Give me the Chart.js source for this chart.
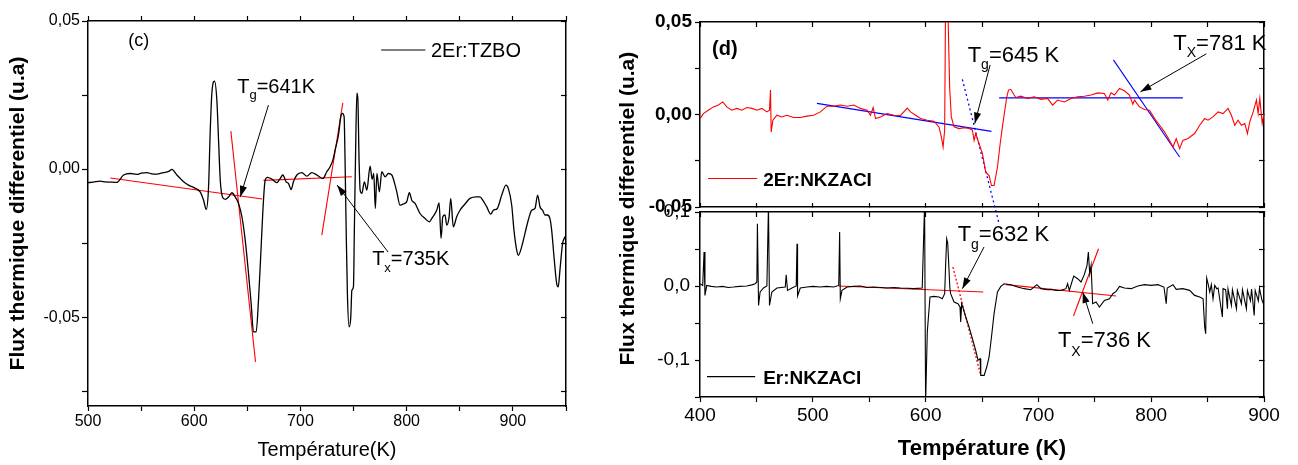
<!DOCTYPE html>
<html><head><meta charset="utf-8">
<script src="https://cdn.jsdelivr.net/npm/chart.js@4.4.0/dist/chart.umd.min.js"></script>
<style>
html,body{margin:0;padding:0;background:#fff;overflow:hidden}
#wrap{position:relative;width:1298px;height:465px;background:#fff}
canvas{position:absolute;left:0;top:0}
</style></head>
<body><div id="wrap">
<canvas id="cC" width="1298" height="465"></canvas>
<canvas id="cDt" width="1298" height="465"></canvas>
<canvas id="cDb" width="1298" height="465"></canvas>
</div>
<script>
// ---------- Panel (c): 2Er:TZBO ----------
const tempC = [
 500,505,511.6,516,521,527,533.5,539.8,546,550,
 555.5,560,564.9,571,576,579,583.7,590,595,599.3,
 605.6,608.8,611.3,613.5,615,616.6,619.1,621.3,622.9,624.5,
 626.6,629.2,632.3,635.5,638.6,641.7,644.9,648,651.1,653.6,
 655.8,658.3,660.5,663,665.2,666.8,669,673.1,677.8,680.9,
 683.4,686.5,688.7,691.2,693.4,696.6,701.3,706,710.7,715.4,
 721.1,724.8,727.9,730.5,732.6,735.8,738,739.5,741.1,742,
 743,744.2,745.8,747.4,748.4,749.9,750.8,751.8,753.1,754,
 755.2,756.2,757.8,760.2,762.5,765.6,767.5,769,770.5,772,
 774.3,776.6,779.7,782.8,786,789.1,790.7,793.8,796.9,800.1,
 802.5,804.8,807.9,812.6,817.3,821.4,823.6,828.3,830.5,832.4,
 834,836.1,837.7,839.9,841.5,843.9,847.1,850.2,854.9,859.6,
 865.9,869,871.6,875.3,879.1,881.6,885.3,889.5,893.5,895.7,
 898.9,901,903.6,905.1,908.3,911.4,914.5,917.7,920.8,923.3,
 925.5,928,930.2,932.4,934.9,936.5,938.7,941.2,942.7,944.3,
 946.8,948.4,950];
const fluxC = [
 -0.0046,-0.0044,-0.0041,-0.0043,-0.0044,-0.0045,-0.0020,-0.0015,-0.0018,-0.0014,
 -0.0012,-0.0016,-0.0017,-0.0012,-0.0008,-0.0001,-0.0020,-0.0043,-0.0055,-0.0062,
 -0.0077,-0.0105,-0.0136,-0.0060,0.0121,0.0256,0.0297,0.0233,0.0098,-0.0037,
 -0.0094,-0.0102,-0.0094,-0.0080,-0.0094,-0.0116,-0.0161,-0.0240,-0.0352,-0.0454,
 -0.0550,-0.0550,-0.0443,-0.0262,-0.0105,-0.0037,-0.0028,-0.0034,-0.0046,-0.0032,
 -0.0020,-0.0043,-0.0048,-0.0069,-0.0043,-0.0020,-0.0012,-0.0024,-0.0012,-0.0020,
 -0.0032,-0.0009,0.0008,0.0030,0.0064,0.0115,0.0177,0.0188,0.0177,0.0030,
 -0.0195,-0.0420,-0.0533,-0.0499,-0.0409,-0.0398,-0.0195,0.0030,0.0256,0.0239,
 0.0030,-0.0071,-0.0082,-0.0043,-0.0071,0.0010,-0.0035,-0.0015,-0.0133,-0.0015,
 -0.0077,-0.0009,-0.0026,-0.0015,-0.0020,-0.0054,-0.0077,-0.0122,-0.0118,-0.0110,
 -0.0080,-0.0105,-0.0116,-0.0150,-0.0167,-0.0178,-0.0167,-0.0139,-0.0114,-0.0234,
 -0.0161,-0.0155,-0.0189,-0.0163,-0.0099,-0.0195,-0.0161,-0.0139,-0.0118,-0.0099,
 -0.0094,-0.0094,-0.0105,-0.0127,-0.0152,-0.0139,-0.0133,-0.0088,-0.0054,-0.0065,
 -0.0122,-0.0206,-0.0274,-0.0291,-0.0262,-0.0217,-0.0172,-0.0139,-0.0133,-0.0088,
 -0.0127,-0.0139,-0.0155,-0.0155,-0.0167,-0.0206,-0.0296,-0.0386,-0.0398,-0.0341,
 -0.0251,-0.0234,-0.0225];
const tangentC1 = [[521,-0.0030],[664,-0.0101]];
const tangentC2 = [[634.5,0.0128],[657.7,-0.0651]];
const tangentC3 = [[665.2,-0.0038],[748.4,-0.0026]];
const tangentC4 = [[720.1,-0.0223],[739.9,0.0224]];
const arrowCg = [[669.9,0.0216],[643.3,-0.0094]];
const arrowCx = [[782.5,-0.0280],[734.5,-0.0054]];

// ---------- Panel (d) top: 2Er:NKZACI ----------
const tempDt = [
 400,403,407.4,411.9,416.3,420.2,423.7,428.1,432.6,437,
 441.5,446,450.4,454.8,459.3,461.6,462.5,463.1,464.6,468.2,
 472.6,477,482.9,488.9,494.8,500.7,506.7,512.6,518.5,524.4,
 530.4,536.3,542.2,548.2,551.1,553.5,555.6,560,565.9,571.9,
 577.8,583.7,586.7,591.1,595.6,601.5,607.4,611.9,614,615.5,
 616.9,617.8,619.3,621.3,622.8,625.2,629.6,634.1,638.5,641.5,
 643,644.4,647.4,650.4,653.3,656.3,658.4,660.7,663.7,666.1,
 668.1,670.2,672,673.5,675.5,678.5,680,684.4,690.4,696.3,
 702.2,708.1,712.6,717,723,728.9,734.8,740.7,746.7,752.6,
 758.5,761.5,764.4,767.4,771.9,776.3,780.7,783.7,785.2,789.6,
 794.1,798.5,803,807.4,811.9,816.3,819.3,822.2,825.2,828.1,
 832.6,838.5,843,847.4,850.4,854.8,859.3,863.7,868.1,871.1,
 874.1,877,880,883,885.3,887.4,890.4,893.3,894.8,896.3,
 898.4,900];
const fluxDt = [
 -0.0022,0.0005,0.0023,0.0041,0.0051,0.0068,0.0041,0.0023,0.0033,0.0023,
 0.0038,0.0033,0.0023,0.0033,0.0014,0.0023,0.0132,-0.0095,-0.0031,-0.0004,
 -0.0013,-0.0004,-0.0016,-0.0016,-0.0009,-0.0004,0.0014,0.0045,0.0045,0.0051,
 0.0045,0.0051,0.0033,0.0023,-0.0004,0.0038,-0.0022,-0.0013,0.0005,-0.0004,
 -0.0005,0.0035,0.0014,-0.0004,-0.0022,-0.0031,-0.0036,-0.0067,-0.0122,-0.0176,
 -0.0085,0.07,0.07,0.0150,-0.0013,-0.0067,-0.0076,-0.0071,-0.0076,-0.0085,
 -0.0140,-0.0103,-0.0158,-0.0212,-0.0312,-0.0330,-0.0384,-0.0384,-0.0285,-0.0158,
 -0.0067,0.0023,0.0096,0.0132,0.0136,0.0105,0.0092,0.0099,0.0087,0.0096,
 0.0082,0.0087,0.0051,0.0078,0.0068,0.0087,0.0096,0.0099,0.0105,0.0117,
 0.0114,0.0078,0.0117,0.0105,0.0141,0.0128,0.0105,0.0056,0.0078,0.0041,
 0.0027,0.0023,-0.0022,-0.0058,-0.0095,-0.0140,-0.0176,-0.0130,-0.0185,-0.0140,
 -0.0130,-0.0103,-0.0058,-0.0022,-0.0031,-0.0013,0.0014,0.0005,0.0033,-0.0004,
 -0.0058,-0.0031,-0.0058,-0.0049,-0.0103,-0.0040,0.0014,0.0078,0.0005,0.0087,
 -0.0049,0.0005];
const blueA = [[503.7,0.0060],[658.4,-0.0091]];
const blueDot = [[632.6,0.0190],[665.2,-0.0592]];
const blueC = [[665.2,0.0090],[828.1,0.0090]];
const blueD = [[766.5,0.0295],[825.2,-0.0230]];
const arrowDtg = [[657.2,0.0268],[643.6,-0.0049]];
const arrowDtx = [[848.9,0.0328],[790.5,0.0123]];

// ---------- Panel (d) bottom: Er:NKZACI ----------
const tempDb = [
 400,402.4,403.6,404.4,406,410,414.8,420,425,429.6,
 435,441.5,446,448.9,450.4,450.9,451.9,453.3,456.3,459.3,
 460.7,461.6,463.7,468.2,475.6,476.4,477.6,481.5,485.3,486,
 486.5,488.9,494.8,500,506.7,512,518.5,523,523.8,524.4,
 525.9,530.4,536,542.2,548,554.1,560,565.9,572,577.8,
 584,589.6,597,599.1,600,601.5,603.9,607.4,611.9,614.8,
 616.9,617.8,618.7,619.6,620.5,621.5,622.2,625.2,628.7,630.5,
 631.1,632,635.6,638.5,641.5,644.4,646.5,648.3,648.9,651.9,
 654.2,656.3,658.4,660.7,663.7,666.7,669.6,675.6,681.5,687.4,
 693.3,698.7,702.2,708.1,711.1,716,720,724.4,725.9,727.4,
 731.3,734.8,737.8,740.7,743.1,744.3,745.5,746.7,747.3,748.1,
 751.1,754.1,758.5,763,766,768.9,771.9,776.3,782.2,788.1,
 794.1,800,805.9,811.3,813.3,814.2,819.3,822.2,828.1,834.1,
 838.5,843,846,847.4,848.3,849.2,850.4,851.9,853.3,854.8,
 856.3,858.1,859.3,863.1,863.7,866,867.6,868.1,871.1,872,
 875.6,876.4,880,880.9,884.4,885.3,888,889,891.3,892.2,
 895,896,898,900];
const fluxDb = [
 0.0031,0.0008,0.0459,-0.0127,0.0008,-0.0005,-0.0014,-0.0005,-0.0020,-0.0014,
 -0.0005,0,0.0015,0.0031,0.0054,0.0842,-0.0262,-0.0081,-0.0027,0,
 0.11,-0.0262,-0.0081,-0.0027,-0.0014,0.0153,-0.0059,-0.0027,0,0.0572,
 -0.0135,-0.0027,-0.0014,-0.0005,-0.0014,-0.0005,-0.0014,0.0008,0.073,-0.0172,
 -0.0059,-0.0014,-0.0005,0,-0.0020,-0.0014,-0.0020,-0.0027,-0.0020,-0.0027,
 -0.0030,-0.0036,-0.0027,0.11,-0.16,-0.062,-0.0149,-0.0140,-0.0149,-0.0172,
 -0.0104,0.030,0.0639,0.058,0.030,-0.003,-0.0104,-0.0216,-0.0239,-0.0284,
 -0.0486,-0.0239,-0.0419,-0.0554,-0.0712,-0.0870,-0.1005,-0.0982,-0.1208,-0.1208,
 -0.1095,-0.0959,-0.0689,-0.0374,-0.0081,-0.0005,0.0031,0.0018,-0.0014,-0.0036,
 -0.0050,0.0018,-0.0036,-0.0050,-0.0046,-0.0060,-0.0059,-0.0036,0.0031,-0.0059,
 0.0135,0.0099,0.0054,0.0153,0.0279,0.0459,0.0166,0.0279,0.0279,-0.0239,
 -0.0216,-0.0284,-0.0194,-0.0172,-0.0104,-0.0072,-0.0005,-0.0027,-0.0036,0,
 0.0018,0.0008,0.0018,-0.0014,-0.0239,-0.0027,0.0018,-0.0046,-0.0036,-0.0059,
 -0.0127,-0.0149,-0.0172,-0.0554,-0.0645,0.0108,0.0031,-0.0081,0.0018,-0.0172,
 0.0008,-0.0036,-0.0027,-0.0419,-0.0036,-0.0050,-0.0307,-0.0040,-0.0262,-0.0050,
 -0.0307,-0.0060,-0.0239,-0.0050,-0.0307,-0.0060,-0.0200,-0.0040,-0.0397,-0.0060,
 -0.0200,-0.0030,-0.0180,-0.0262];
const redE = [[523,0],[651.1,-0.0081]];
const redF = [[624.2,0.0257],[648.9,-0.121]];
const redG = [[671.1,0.0018],[768.9,-0.0135]];
const redH = [[731.1,-0.0405],[753.3,0.0504]];
const arrowDbg = [[651.8,0.0527],[632.6,-0.0036]];
const arrowDbx = [[748.2,-0.0509],[739.3,-0.0081]];

// ---------- helpers ----------
const FONT = '"Liberation Sans", Arial, Helvetica, sans-serif';
Chart.defaults.font.family = FONT;
Chart.defaults.color = '#000';

const pts = (xs, ys) => xs.map((x, i) => ({x: x, y: ys[i]}));
const seg = a => a.map(p => ({x: p[0], y: p[1]}));
const line = (data, color, w, extra) => Object.assign({data: data, borderColor: color, backgroundColor: color, borderWidth: w, showLine: true, pointRadius: 0, pointHoverRadius: 0, fill: false}, extra || {});

function yLabel(step, dec) {
  return v => {
    if (Math.abs(v) < 1e-9) v = 0;
    const r = v / step;
    if (Math.abs(r - Math.round(r)) > 1e-6) return '';
    return v.toFixed(dec).replace('.', ',');
  };
}
const xLabel = v => (Math.abs(v / 100 - Math.round(v / 100)) < 1e-6 ? String(Math.round(v)) : '');

const notesPlugin = (id, items) => ({
  id: id,
  afterDatasetsDraw(chart) {
    const ctx = chart.ctx, xs = chart.scales.x, ys = chart.scales.y;
    items.forEach(it => {
      ctx.save();
      if (it.line) {
        const [x1, x2, y] = it.line;
        const py = ys.getPixelForValue(y);
        ctx.strokeStyle = it.color; ctx.lineWidth = it.width || 1;
        ctx.beginPath(); ctx.moveTo(xs.getPixelForValue(x1), py); ctx.lineTo(xs.getPixelForValue(x2), py); ctx.stroke();
      } else if (it.rot) {
        const px = xs.getPixelForValue(it.x), py = ys.getPixelForValue(it.y);
        ctx.translate(px, py); ctx.rotate(-Math.PI / 2);
        ctx.font = (it.bold ? 'bold ' : '') + it.size + 'px ' + FONT;
        ctx.fillStyle = '#000'; ctx.textAlign = 'center'; ctx.textBaseline = 'middle';
        ctx.fillText(it.text, 0, 0);
      } else {
        let px = xs.getPixelForValue(it.x);
        const py = ys.getPixelForValue(it.y);
        ctx.fillStyle = it.color || '#000'; ctx.textAlign = 'left'; ctx.textBaseline = 'alphabetic';
        it.parts.forEach(p => {
          ctx.font = (it.bold ? 'bold ' : '') + p[1] + 'px ' + FONT;
          ctx.fillText(p[0], px, py + (p[2] || 0));
          px += ctx.measureText(p[0]).width;
        });
      }
      ctx.restore();
    });
  }
});

const arrowPlugin = {
  id: 'arrowHeads',
  afterDatasetsDraw(chart) {
    const ctx = chart.ctx;
    chart.data.datasets.forEach((ds, i) => {
      if (!ds.arrowHead) return;
      const m = chart.getDatasetMeta(i), n = m.data.length;
      const a = m.data[n - 2], b = m.data[n - 1];
      const ang = Math.atan2(b.y - a.y, b.x - a.x), L = 11, W = 3.6;
      const c = Math.cos(ang), s = Math.sin(ang);
      ctx.save(); ctx.fillStyle = '#000';
      ctx.beginPath();
      ctx.moveTo(b.x, b.y);
      ctx.lineTo(b.x - L * c + W * s, b.y - L * s - W * c);
      ctx.lineTo(b.x - L * c - W * s, b.y - L * s + W * c);
      ctx.closePath(); ctx.fill(); ctx.restore();
    });
  }
};

const BORDER = {display: true, color: '#000', width: 1.5};
function axisX(min, max, pos, size, tl, showLabels, fontOpt, pad, title) {
  return {
    type: 'linear', axis: 'x', position: pos, min: min, max: max,
    afterFit: s => { s.height = size; },
    ticks: {display: showLabels, stepSize: 50, callback: xLabel, autoSkip: false, maxRotation: 0, includeBounds: false, font: fontOpt, padding: pad, color: '#000'},
    grid: {drawOnChartArea: false, drawTicks: true, tickLength: tl, tickColor: '#000', tickWidth: 1.2},
    border: BORDER,
    title: title || {display: false}
  };
}
function axisY(min, max, pos, size, tl, step, lstep, dec, showLabels, fontOpt, pad, title) {
  return {
    type: 'linear', axis: 'y', position: pos, min: min, max: max,
    afterFit: s => { s.width = size; },
    ticks: {display: showLabels, stepSize: step, callback: yLabel(lstep, dec), autoSkip: false, includeBounds: false, font: fontOpt, padding: pad, color: '#000'},
    grid: {drawOnChartArea: false, drawTicks: true, tickLength: tl, tickColor: '#000', tickWidth: 1.2},
    border: BORDER,
    title: title || {display: false}
  };
}
const baseOpts = (padding, scales, notes) => ({
  responsive: false, animation: false, devicePixelRatio: 1,
  layout: {padding: padding},
  plugins: {legend: {display: false}, tooltip: {enabled: false}},
  scales: scales
});

// ---------- Chart (c) ----------
new Chart(document.getElementById('cC'), {
  type: 'scatter',
  data: {datasets: [
    line(pts(tempC, fluxC), '#000', 1.3, {cubicInterpolationMode: 'monotone'}),
    line(seg(tangentC1), '#ff0000', 1.1),
    line(seg(tangentC2), '#ff0000', 1.1),
    line(seg(tangentC3), '#ff0000', 1.1),
    line(seg(tangentC4), '#ff0000', 1.1),
    line(seg(arrowCg), '#000', 1, {arrowHead: true}),
    line(seg(arrowCx), '#000', 1, {arrowHead: true})
  ]},
  options: baseOpts({left: 0, top: 11, right: 722, bottom: 0}, {
    x: axisX(500, 950, 'bottom', 59, 5, true, {size: 16}, 1,
      {display: true, text: 'Température(K)', font: {size: 20}, padding: 3, color: '#000'}),
    x2: axisX(500, 950, 'top', 10, 5, false, {size: 16}, 0),
    y: axisY(-0.08, 0.05, 'left', 88, 6, 0.025, 0.05, 2, true, {size: 16}, 2,
      {display: true, text: 'Flux thermique differentiel (u.a)', font: {size: 21, weight: 'bold'}, padding: 6, color: '#000'}),
    y2: axisY(-0.08, 0.05, 'right', 10, -5, 0.025, 0.05, 2, false, {size: 16}, 0)
  }),
  plugins: [arrowPlugin, notesPlugin('notesC', [
    {x: 538, y: 0.04155, parts: [['(c)', 18]]},
    {line: [776, 817.6, 0.0402], color: '#000', width: 1.2},
    {x: 822.9, y: 0.0378, parts: [['2Er:TZBO', 20]]},
    {x: 640.5, y: 0.0257, parts: [['T', 20], ['g', 13, 6], ['=641K', 20]]},
    {x: 767.5, y: -0.0324, parts: [['T', 20], ['x', 13, 7], ['=735K', 20]]}
  ])]
});

// ---------- Chart (d) top ----------
new Chart(document.getElementById('cDt'), {
  type: 'scatter',
  data: {datasets: [
    line(pts(tempDt, fluxDt), '#ff0000', 1.1),
    line(seg(blueA), '#0000ff', 1.1),
    line(seg(blueDot), '#0000ff', 1.3, {borderDash: [2, 3], clip: false}),
    line(seg(blueC), '#0000ff', 1.1),
    line(seg(blueD), '#0000ff', 1.1),
    line(seg(arrowDtg), '#000', 1, {arrowHead: true}),
    line(seg(arrowDtx), '#000', 1, {arrowHead: true})
  ]},
  options: baseOpts({left: 600, top: 12, right: 24, bottom: 253}, {
    x: axisX(400, 900, 'bottom', 5, -4, false, {size: 19}, 0),
    x2: axisX(400, 900, 'top', 10, -5, false, {size: 19}, 0),
    y: axisY(-0.05, 0.05, 'left', 100, 5, 0.025, 0.05, 2, true, {size: 19, weight: 'bold'}, 3),
    y2: axisY(-0.05, 0.05, 'right', 10, -5, 0.025, 0.05, 2, false, {size: 19}, 0)
  }),
  plugins: [arrowPlugin, notesPlugin('notesDt', [
    {x: 410.7, y: 0.0322, bold: true, parts: [['(d)', 20]]},
    {line: [407.1, 450.7, -0.0346], color: '#ff0000', width: 1.2},
    {x: 456, y: -0.0384, bold: true, parts: [['2Er:NKZACI', 19]]},
    {x: 637.3, y: 0.0284, parts: [['T', 22], ['g', 14, 7], ['=645 K', 22]]},
    {x: 819.6, y: 0.035, parts: [['T', 22], ['X', 14, 7], ['=781 K', 22]]}
  ])]
});

// ---------- Chart (d) bottom ----------
new Chart(document.getElementById('cDb'), {
  type: 'scatter',
  data: {datasets: [
    line(pts(tempDb, fluxDb), '#000', 1.1),
    line(seg(redE), '#ff0000', 1.1),
    line(seg(redF), '#ff0000', 1.3, {borderDash: [2, 2]}),
    line(seg(redG), '#ff0000', 1.1),
    line(seg(redH), '#ff0000', 1.1),
    line(seg(arrowDbg), '#000', 1, {arrowHead: true}),
    line(seg(arrowDbx), '#000', 1, {arrowHead: true})
  ]},
  options: baseOpts({left: 600, top: 202, right: 24, bottom: 0}, {
    x: axisX(400, 900, 'bottom', 68, 5, true, {size: 19}, 2,
      {display: true, text: 'Température (K)', font: {size: 22, weight: 'bold'}, padding: 3, color: '#000'}),
    x2: axisX(400, 900, 'top', 10, -5, false, {size: 19}, 0),
    y: axisY(-0.15, 0.1, 'left', 100, 5, 0.05, 0.1, 1, true, {size: 19}, 5),
    y2: axisY(-0.15, 0.1, 'right', 10, -5, 0.05, 0.1, 1, false, {size: 19}, 0)
  }),
  plugins: [arrowPlugin, notesPlugin('notesDb', [
    {line: [406.2, 448.9, -0.1226], color: '#000', width: 1.2},
    {x: 456, y: -0.132, bold: true, parts: [['Er:NKZACI', 19]]},
    {x: 628.4, y: 0.0612, parts: [['T', 22], ['g', 14, 8], ['=632 K', 22]]},
    {x: 717.3, y: -0.082, parts: [['T', 22], ['X', 14, 9], ['=736 K', 22]]},
    {x: 336, y: 0.1045, rot: true, bold: true, size: 21, text: 'Flux thermique differentiel (u.a)'}
  ])]
});
</script>
</body></html>
